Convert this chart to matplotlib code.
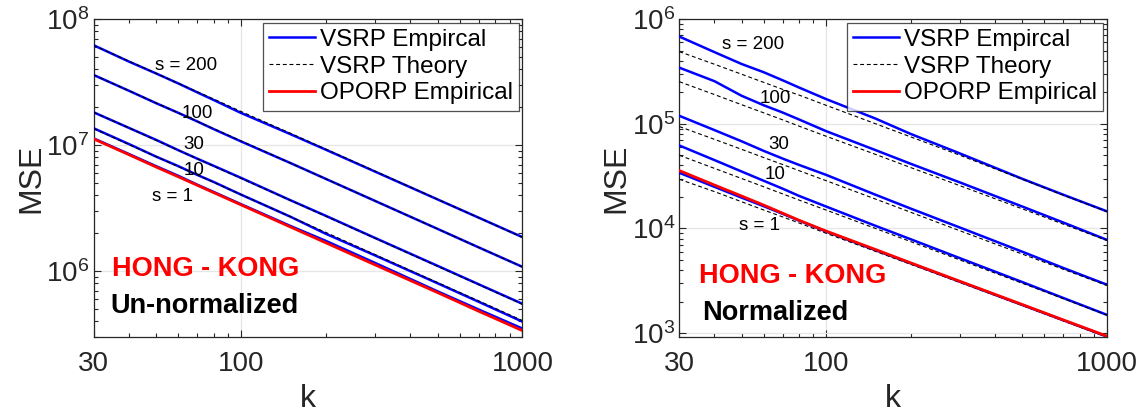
import matplotlib
matplotlib.use("Agg")
import matplotlib.pyplot as plt
from matplotlib.ticker import FixedLocator, NullFormatter, LogLocator

plt.rcParams['font.family'] = ['Liberation Sans', 'DejaVu Sans']
plt.rcParams['mathtext.fontset'] = 'custom'
plt.rcParams['mathtext.rm'] = 'Liberation Sans'
plt.rcParams['mathtext.it'] = 'Liberation Sans:italic'

# k values (projection size)
k = [30, 40, 50, 60, 70, 80, 100, 150, 200, 300, 500, 700, 1000]
s_values = [200, 100, 30, 10, 1]

# un-normalized MSE, rows follow s_values
unnorm_emp = [
    [6.2e7, 4.6e7, 3.7e7, 3.08e7, 2.62e7, 2.28e7, 1.8e7, 1.22e7, 9.2e6, 6.15e6, 3.7e6, 2.65e6, 1.86e6],
    [3.6e7, 2.7e7, 2.15e7, 1.8e7, 1.54e7, 1.34e7, 1.07e7, 7.2e6, 5.4e6, 3.6e6, 2.16e6, 1.54e6, 1.08e6],
    [1.82e7, 1.37e7, 1.1e7, 9.1e6, 7.8e6, 6.85e6, 5.5e6, 3.65e6, 2.75e6, 1.83e6, 1.1e6, 7.85e5, 5.5e5],
    [1.36e7, 1.02e7, 8.1e6, 6.8e6, 5.8e6, 5.1e6, 4.05e6, 2.7e6, 1.98e6, 1.33e6, 8.0e5, 5.7e5, 3.97e5],
    [1.13e7, 8.5e6, 6.8e6, 5.7e6, 4.85e6, 4.25e6, 3.4e6, 2.28e6, 1.74e6, 1.16e6, 6.9e5, 4.95e5, 3.5e5],
]
unnorm_theory = [
    [6.18e7, 4.64e7, 3.71e7, 3.09e7, 2.65e7, 2.32e7, 1.85e7, 1.24e7, 9.3e6, 6.2e6, 3.71e6, 2.65e6, 1.85e6],
    [3.6e7, 2.7e7, 2.16e7, 1.8e7, 1.54e7, 1.35e7, 1.08e7, 7.2e6, 5.4e6, 3.6e6, 2.16e6, 1.54e6, 1.08e6],
    [1.82e7, 1.37e7, 1.09e7, 9.1e6, 7.8e6, 6.8e6, 5.45e6, 3.64e6, 2.73e6, 1.82e6, 1.09e6, 7.8e5, 5.45e5],
    [1.35e7, 1.01e7, 8.1e6, 6.75e6, 5.8e6, 5.07e6, 4.05e6, 2.7e6, 2.03e6, 1.35e6, 8.1e5, 5.8e5, 4.05e5],
    [1.12e7, 8.4e6, 6.75e6, 5.6e6, 4.8e6, 4.2e6, 3.37e6, 2.25e6, 1.69e6, 1.12e6, 6.75e5, 4.8e5, 3.38e5],
]
unnorm_oporp = [1.12e7, 8.4e6, 6.7e6, 5.6e6, 4.8e6, 4.2e6, 3.36e6, 2.24e6, 1.68e6, 1.12e6, 6.75e5, 4.8e5, 3.37e5]

# normalized MSE
norm_emp = [
    [6.8e5, 4.83e5, 3.72e5, 3.1e5, 2.6e5, 2.22e5, 1.72e5, 1.12e5, 8.0e4, 5.2e4, 2.98e4, 2.1e4, 1.46e4],
    [3.43e5, 2.55e5, 1.85e5, 1.5e5, 1.28e5, 1.1e5, 8.5e4, 5.6e4, 4.15e4, 2.75e4, 1.62e4, 1.14e4, 7.8e3],
    [1.19e5, 8.7e4, 6.8e4, 5.5e4, 4.65e4, 4.05e4, 3.25e4, 2.1e4, 1.55e4, 1.02e4, 6.0e3, 4.2e3, 2.91e3],
    [6.2e4, 4.5e4, 3.5e4, 2.85e4, 2.4e4, 2.05e4, 1.62e4, 1.06e4, 7.9e3, 5.2e3, 3.08e3, 2.17e3, 1.5e3],
    [3.4e4, 2.5e4, 1.97e4, 1.63e4, 1.38e4, 1.19e4, 9.35e3, 6.2e3, 4.65e3, 3.1e3, 1.86e3, 1.33e3, 9.3e2],
]
norm_theory = [
    [4.88e5, 3.7e5, 2.97e5, 2.48e5, 2.13e5, 1.88e5, 1.5e5, 1.0e5, 7.5e4, 5.0e4, 2.95e4, 2.08e4, 1.45e4],
    [2.52e5, 1.9e5, 1.52e5, 1.27e5, 1.09e5, 9.5e4, 7.6e4, 5.1e4, 3.82e4, 2.56e4, 1.54e4, 1.1e4, 7.7e3],
    [9.4e4, 7.1e4, 5.7e4, 4.75e4, 4.08e4, 3.57e4, 2.86e4, 1.91e4, 1.43e4, 9.5e3, 5.7e3, 4.08e3, 2.86e3],
    [5.0e4, 3.75e4, 3.0e4, 2.5e4, 2.14e4, 1.87e4, 1.5e4, 1.0e4, 7.5e3, 5.0e3, 3.0e3, 2.14e3, 1.49e3],
    [2.95e4, 2.25e4, 1.8e4, 1.5e4, 1.29e4, 1.13e4, 9.0e3, 6.05e3, 4.55e3, 3.05e3, 1.84e3, 1.31e3, 9.2e2],
]
norm_oporp = [3.57e4, 2.6e4, 2.04e4, 1.67e4, 1.4e4, 1.2e4, 9.45e3, 6.3e3, 4.7e3, 3.13e3, 1.88e3, 1.34e3, 9.4e2]

# label positions (k, MSE) for each s curve
unnorm_label_pos = [(64, 4.3e7), (70, 1.77e7), (68, 1.01e7), (68, 6.3e6), (57, 3.9e6)]
norm_label_pos = [(55, 5.65e5), (66, 1.75e5), (68, 6.3e4), (66, 3.25e4), (58, 1.06e4)]
s_labels = ['s = 200', '100', '30', '10', 's = 1']

EDGE = '#262626'


def draw_panel(ax, emp, theory, oporp, ylim, label_pos, subtitle, sub_pos, title_pos):
    for row in emp:
        ax.plot(k, row, color='blue', lw=1.8, zorder=3)
    for row in theory:
        ax.plot(k, row, color='black', lw=0.8, ls=(0, (3.5, 2.5)), zorder=4)
    ax.plot(k, oporp, color='red', lw=2.0, zorder=5)

    ax.set_xscale('log')
    ax.set_yscale('log')
    ax.set_xlim(30, 1000)
    ax.set_ylim(*ylim)
    ax.xaxis.set_major_locator(FixedLocator([30, 100, 1000]))
    ax.set_xticklabels(['30', '100', '1000'])
    ax.xaxis.set_minor_locator(FixedLocator([40, 50, 60, 70, 80, 90, 200, 300, 400, 500, 600, 700, 800, 900]))
    ax.xaxis.set_minor_formatter(NullFormatter())
    ax.yaxis.set_major_locator(LogLocator(base=10, numticks=10))
    ax.yaxis.set_minor_locator(LogLocator(base=10, subs=range(2, 10), numticks=10))
    ax.yaxis.set_minor_formatter(NullFormatter())

    ax.tick_params(which='both', direction='in', top=True, right=True, colors=EDGE,
                   labelsize=20, width=0.8)
    ax.tick_params(which='major', length=5)
    ax.tick_params(which='minor', length=3)
    ax.tick_params(axis='x', pad=10)
    ax.tick_params(axis='y', pad=3)
    for sp in ax.spines.values():
        sp.set_color(EDGE)
        sp.set_linewidth(0.9)
    ax.grid(True, which='major', color='#e6e6e6', lw=0.9, zorder=0)
    ax.set_axisbelow(True)

    ax.set_xlabel('k', fontsize=23, color=EDGE, labelpad=5)
    ax.set_ylabel('MSE', fontsize=23, color=EDGE, labelpad=0)

    for (xk, yv), lab in zip(label_pos, s_labels):
        ax.text(xk, yv, lab, fontsize=13.5, ha='center', va='center', color='black', zorder=6)

    ax.text(title_pos[0], title_pos[1], 'HONG - KONG', fontsize=19.5, fontweight='bold',
            color='red', ha='center', va='center', zorder=6)
    ax.text(sub_pos[0], sub_pos[1], subtitle, fontsize=19.5, fontweight='bold',
            color='black', ha='left', va='center', zorder=6)

    handles = [
        plt.Line2D([], [], color='blue', lw=1.8),
        plt.Line2D([], [], color='black', lw=0.8, ls=(0, (3.5, 2.5))),
        plt.Line2D([], [], color='red', lw=2.0),
    ]
    leg = ax.legend(handles, ['VSRP Empircal', 'VSRP Theory', 'OPORP Empirical'],
                    loc='upper right', fontsize=17.5, frameon=True, fancybox=False,
                    borderaxespad=0.15, borderpad=0.25, handlelength=1.9,
                    handletextpad=0.2, labelspacing=0.2)
    leg.get_frame().set_edgecolor(EDGE)
    leg.get_frame().set_linewidth(0.9)
    leg.set_zorder(10)


fig = plt.figure(figsize=(11.45, 4.13), dpi=100)
ax1 = fig.add_axes([0.0817, 0.184, 0.3746, 0.770])
ax2 = fig.add_axes([0.5933, 0.184, 0.3733, 0.770])

draw_panel(ax1, unnorm_emp, unnorm_theory, unnorm_oporp, (3.0e5, 1e8),
           unnorm_label_pos, 'Un-normalized', (34.5, 5.25e5), (75, 1.04e6))
draw_panel(ax2, norm_emp, norm_theory, norm_oporp, (920, 1e6),
           norm_label_pos, 'Normalized', (36.3, 1.56e3), (76, 3.5e3))

fig.savefig('out.png', dpi=100)
